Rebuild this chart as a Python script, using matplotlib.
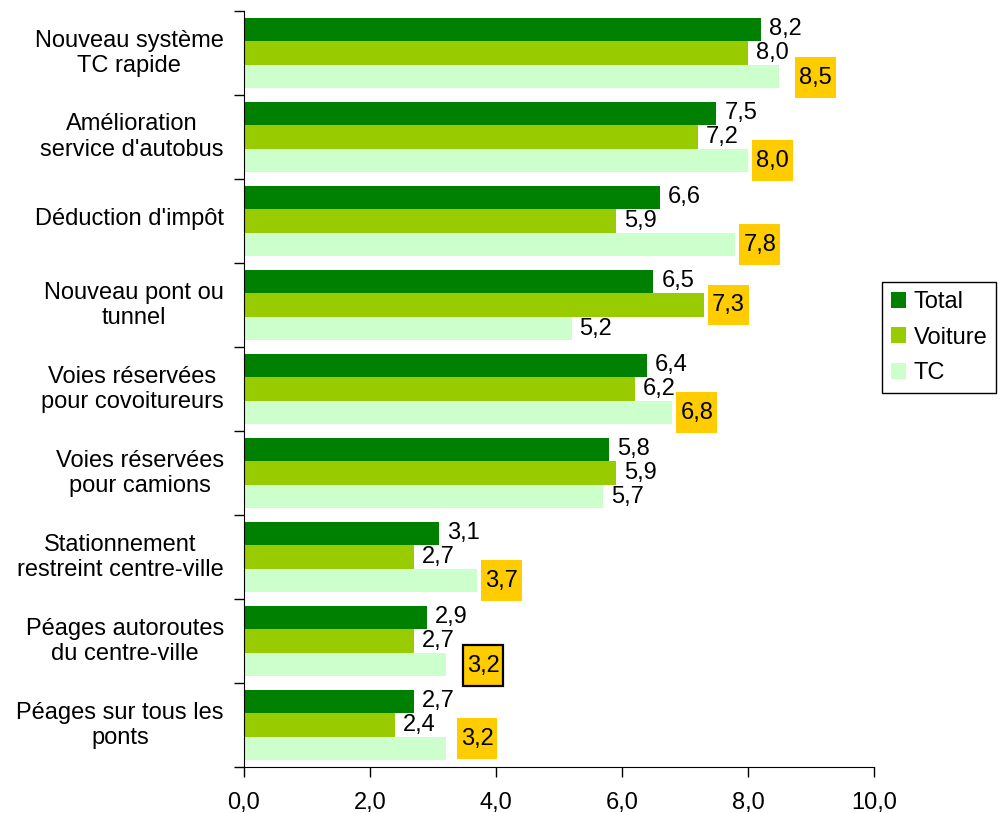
import matplotlib.pyplot as plt
import numpy as np
from matplotlib.path import Path
from matplotlib.transforms import ScaledTranslation

plt.rcParams['font.family'] = ['Liberation Sans', 'DejaVu Sans']

# data
categories = ["Nouveau système\nTC rapide", "Amélioration\nservice d'autobus",
              "Déduction d'impôt", "Nouveau pont ou\ntunnel",
              "Voies réservées\npour covoitureurs", "Voies réservées\npour camions",
              "Stationnement\nrestreint centre-ville", "Péages autoroutes\ndu centre-ville",
              "Péages sur tous les\nponts"]
total = [8.2, 7.5, 6.6, 6.5, 6.4, 5.8, 3.1, 2.9, 2.7]
voiture = [8.0, 7.2, 5.9, 7.3, 6.2, 5.9, 2.7, 2.7, 2.4]
tc = [8.5, 8.0, 7.8, 5.2, 6.8, 5.7, 3.7, 3.2, 3.2]
series_names = ["Total", "Voiture", "TC"]
colors = ["#008000", "#99CC00", "#CCFFCC"]
xticks = [0, 2, 4, 6, 8, 10]
xtick_labels = ["0,0", "2,0", "4,0", "6,0", "8,0", "10,0"]

# highlighted labels (group, series) and the one with a frame
highlight = [(0, 2), (1, 2), (2, 2), (3, 1), (4, 2), (6, 2), (7, 2), (8, 2)]
framed = (7, 2)
# extra label nudges in pixels (dx, dy)
nudge = {(0, 2): (12, -1), (7, 2): (13, -1), (8, 2): (7, 10)}

FS = 17
BAR_H = 0.28


def tall_box(x0, y0, width, height, mutation_size):
    px = 0.17 * mutation_size
    py = 0.40 * mutation_size
    x0, y0 = x0 - px, y0 - py
    x1, y1 = x0 + width + 2 * px, y0 + height + 2 * py
    return Path([(x0, y0), (x1, y0), (x1, y1), (x0, y1), (x0, y0)],
                [Path.MOVETO, Path.LINETO, Path.LINETO, Path.LINETO, Path.CLOSEPOLY])


fig = plt.figure(figsize=(10.04, 8.13), dpi=100)
ax = fig.add_axes([244 / 1004, 1 - 767 / 813, (874 - 244) / 1004, (767 - 11) / 813])

y = np.arange(len(categories))
all_series = [total, voiture, tc]
for s, (vals, name, col) in enumerate(zip(all_series, series_names, colors)):
    pos = y + (s - 1) * BAR_H
    ax.barh(pos, vals, height=BAR_H, color=col, label=name)
    for g, v in enumerate(vals):
        dx, dy = nudge.get((g, s), (0, 0))
        txt = "{:.1f}".format(v).replace('.', ',')
        kw = {}
        if (g, s) in highlight:
            ec = 'black' if (g, s) == framed else 'none'
            lw = 1.6 if (g, s) == framed else 0
            kw['bbox'] = dict(boxstyle=tall_box, facecolor='#FFCC00', edgecolor=ec, linewidth=lw)
        ax.annotate(txt, (v, pos[g]), xytext=(8 + dx, dy), textcoords='offset pixels',
                    ha='left', va='center', fontsize=FS, **kw)

ax.set_xlim(0, 10)
ax.set_ylim(len(categories) - 0.5, -0.5)
ax.set_xticks(xticks, labels=xtick_labels)
ax.set_yticks(y, labels=categories, multialignment='center', ha='right')
ax.set_yticks(np.arange(len(categories) + 1) - 0.5, minor=True)
ax.tick_params(axis='y', which='major', length=0, pad=14.5, labelsize=FS)
ax.tick_params(axis='y', which='minor', length=7, width=1, direction='out')
ax.tick_params(axis='x', length=7, width=1, direction='out', pad=11, labelsize=FS)
ax.spines['top'].set_visible(False)
ax.spines['right'].set_visible(False)

# lift category labels a little, as in the original
shift = ScaledTranslation(0, 4 / 100, fig.dpi_scale_trans)
for lab in ax.get_yticklabels():
    lab.set_transform(lab.get_transform() + shift)

leg = ax.legend(loc='upper left', bbox_to_anchor=(882 / 1004, 1 - 282 / 813),
                bbox_transform=fig.transFigure, borderaxespad=0, fontsize=FS,
                fancybox=False, framealpha=1, edgecolor='black',
                handlelength=0.65, handleheight=0.65, handletextpad=0.3,
                labelspacing=0.58, borderpad=0.38)
leg.get_frame().set_linewidth(1)

plt.savefig('out.png', dpi=100)
